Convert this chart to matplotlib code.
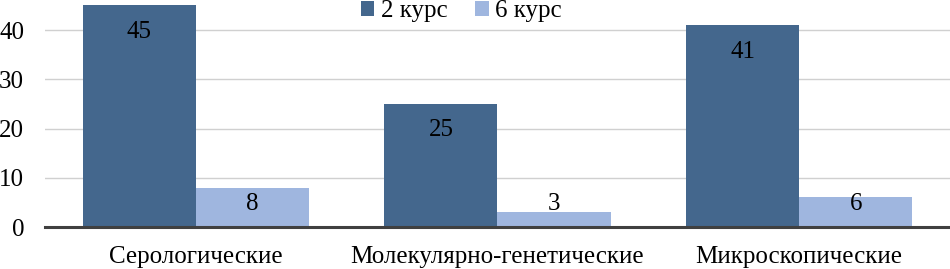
import numpy as np
import matplotlib.pyplot as plt

# данные
categories = ["Серологические", "Молекулярно-генетические", "Микроскопические"]
kurs2 = [45, 25, 41]
kurs6 = [8, 3, 6]
series_names = ["2 курс", "6 курс"]

c_dark = "#44678D"
c_light = "#9FB6DF"

plt.rcParams["font.family"] = "serif"
plt.rcParams["font.serif"] = ["Liberation Serif", "DejaVu Serif"]

fig = plt.figure(figsize=(9.5, 2.69), dpi=100)
ax = fig.add_axes([45 / 950, 42 / 269, 905 / 950, 227 / 269])

x = np.arange(len(categories))
w = 0.375
b1 = ax.bar(x - w / 2, kurs2, w, color=c_dark, label=series_names[0], zorder=3)
b2 = ax.bar(x + w / 2, kurs6, w, color=c_light, label=series_names[1], zorder=3)

ax.set_xlim(-0.5, 2.5)
ax.set_ylim(0, 46.1)
ax.set_yticks([0, 10, 20, 30, 40])
ax.set_xticks(x)
ax.set_xticklabels(categories)
ax.tick_params(axis="both", length=0, labelsize=18, colors="black")
ax.tick_params(axis="x", pad=14)
ax.tick_params(axis="y", pad=15)

ax.grid(axis="y", color="#d0d0d0", linewidth=1, zorder=0)
for s in ["top", "right", "left"]:
    ax.spines[s].set_visible(False)
ax.spines["bottom"].set_color("#404040")
ax.spines["bottom"].set_linewidth(2.2)
ax.spines["bottom"].set_zorder(4)

# подписи значений
for xi, v in zip(x, kurs2):
    ax.annotate(str(v), (xi - w / 2, v), xytext=(0, -19), textcoords="offset points",
                ha="center", va="center", fontsize=18, zorder=5)
for xi, v in zip(x, kurs6):
    ax.text(xi + w / 2, 4.6, str(v), ha="center", va="center", fontsize=18, zorder=5)

fig.legend(loc="center", bbox_to_anchor=(461 / 950, 1 - 11 / 269), ncol=2, frameon=False,
           fontsize=18, handlelength=0.55, handleheight=0.55, handletextpad=0.25,
           columnspacing=1.1, borderpad=0)

fig.savefig("out.png", dpi=100)
